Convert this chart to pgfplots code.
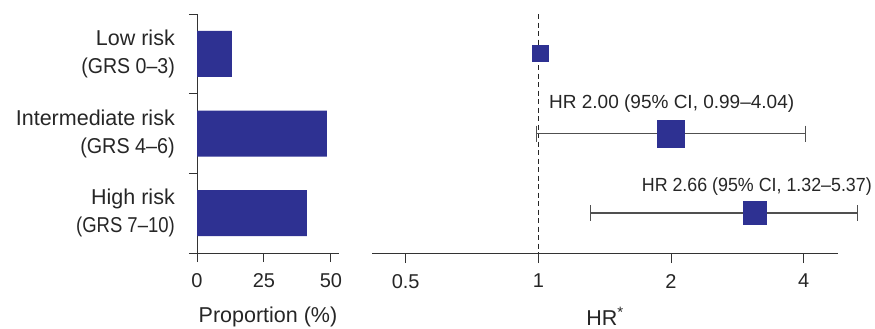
\documentclass[border=0pt]{standalone}
\usepackage{pgfplots}
\pgfplotsset{compat=1.18}
\usepackage{fontspec}
\setmainfont{Liberation Sans}
\definecolor{barblue}{RGB}{46,49,146}
\definecolor{ebgray}{RGB}{80,80,80}
\begin{document}
\begin{tikzpicture}
\useasboundingbox (0,0) rectangle (875pt,-329pt);
% Left panel: proportions
\begin{axis}[
  at={(197pt,-253pt)}, anchor=south west,
  scale only axis, width=142pt, height=239pt,
  xmin=0, xmax=53, ymin=0.5, ymax=3.5, y dir=reverse,
  axis x line*=bottom, axis y line*=left,
  x axis line style={shorten <=-8pt},
  axis line style={line width=1pt, black!80},
  xtick={0,25,50},
  ytick={1,2,3},
  yticklabels={{Low risk\\\scalebox{0.91}[1]{(GRS 0--3)}},{Intermediate risk\\\scalebox{0.92}[1]{(GRS 4--6)}},{High risk\\\scalebox{0.86}[1]{(GRS 7--10)}}},
  minor ytick={0.5,1.5,2.5,3.5},
  tick align=outside,
  major tick length=9pt, minor tick length=8pt,
  ytick style={draw=none},
  minor y tick style={draw=black!80, line width=1pt},
  xtick style={black!80, line width=1pt},
  /pgf/number format/assume math mode=true,
  ticklabel style={font=\fontsize{20}{24}\selectfont, text=black!85},
  yticklabel style={align=right, font=\fontsize{21.5}{28}\selectfont, text=black!85, inner sep=0pt, xshift=-13pt},
  xticklabel style={inner sep=0pt, yshift=-11pt},
  xlabel={Proportion (\%)},
  xlabel style={font=\fontsize{21.5}{26}\selectfont, text=black!85, inner sep=0pt, yshift=-19pt},
]
\addplot[xbar, bar width=46pt, fill=barblue, draw=none] coordinates {(13,1) (48.5,2) (41,3)};
\end{axis}
% Right panel: hazard ratios
\begin{axis}[
  at={(372pt,-253pt)}, anchor=south west,
  scale only axis, width=466pt, height=239pt,
  xmode=log, log basis x=2,
  xmin=0.4193, xmax=4.785, ymin=0.5, ymax=3.5, y dir=reverse,
  axis x line*=bottom, axis y line=none,
  axis line style={line width=1pt, black!80},
  xtick={0.5,1,2,4}, xticklabels={0.5,1,2,4},
  tick align=outside, major tick length=10pt,
  xtick style={black!80, line width=1pt},
  ticklabel style={font=\fontsize{20}{24}\selectfont, text=black!85},
  xticklabel style={inner sep=0pt, yshift=-11pt},
  xlabel={HR\textsuperscript{*}},
  xlabel style={font=\fontsize{21.5}{26}\selectfont, text=black!85, inner sep=0pt, yshift=-19pt},
  clip=false,
]
\addplot[black!85, line width=1.2pt, dash pattern=on 5pt off 3.5pt] coordinates {(1,0.5) (1,3.5)};
\addplot[ebgray, line width=1.4pt, mark=|, mark size=8pt, mark options={line width=1.4pt, solid}] coordinates {(0.99,2) (4.04,2)};
\addplot[ebgray, line width=1.4pt, mark=|, mark size=8pt, mark options={line width=1.4pt, solid}] coordinates {(1.315,3) (5.30,3)};
\addplot[barblue, only marks, mark=square*, mark size=8pt, mark options={fill=barblue, draw=barblue, line width=0pt}] coordinates {(1.01,1)};
\addplot[barblue, only marks, mark=square*, mark size=13.5pt, mark options={fill=barblue, draw=barblue, line width=0pt}] coordinates {(2.0,2)};
\addplot[barblue, only marks, mark=square*, mark size=11.5pt, mark options={fill=barblue, draw=barblue, line width=0pt}] coordinates {(3.1,3)};
\node[anchor=base west, inner sep=0pt, font=\fontsize{19}{22}\selectfont, text=black!85] at (axis cs:1.057,1.68) {HR 2.00 (95\% CI, 0.99--4.04)};
\node[anchor=base west, inner sep=0pt, font=\fontsize{19}{22}\selectfont, text=black!85] at (axis cs:1.716,2.73) {\scalebox{0.938}[1]{HR 2.66 (95\% CI, 1.32--5.37)}};
\end{axis}
\end{tikzpicture}
\end{document}
